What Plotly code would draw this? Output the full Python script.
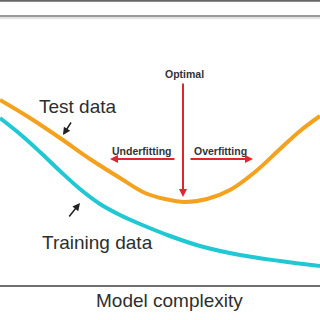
import plotly.graph_objects as go

H = 320  # canvas units (error axis = H - pixel row)

# Model complexity (x) and error (y) for each curve
test_x = [0, 30, 60, 90, 120, 145, 165, 185, 207, 230, 255, 280, 300, 320]
test_err = [220, 202, 182, 161, 142, 127, 121, 118, 121, 130, 148, 171, 189, 204]

train_x = [0, 20, 40, 60, 80, 100, 120, 140, 170, 200, 240, 280, 320]
train_err = [202, 186, 168, 149, 131, 116, 105, 96, 84, 74, 65, 59, 54]

labels = ["Test data", "Training data", "Model complexity", "Optimal", "Underfitting", "Overfitting"]

fig = go.Figure()
fig.add_trace(go.Scatter(x=test_x, y=test_err, mode="lines",
                         line=dict(color="#F4A21E", width=4, shape="spline", smoothing=1.0),
                         showlegend=False, hoverinfo="skip"))
fig.add_trace(go.Scatter(x=train_x, y=train_err, mode="lines",
                         line=dict(color="#20C8D4", width=4, shape="spline", smoothing=1.0),
                         showlegend=False, hoverinfo="skip"))

def Y(p):
    return H - p

# frame lines
fig.add_shape(type="line", x0=0, x1=320, y0=Y(0.8), y1=Y(0.8), line=dict(color="#666666", width=2))
fig.add_shape(type="line", x0=0, x1=320, y0=Y(16), y1=Y(16), line=dict(color="#9a9a9a", width=2))
fig.add_shape(type="line", x0=0, x1=320, y0=Y(18), y1=Y(18), line=dict(color="#d8d8d8", width=1.5))
fig.add_shape(type="line", x0=0, x1=320, y0=Y(286), y1=Y(286), line=dict(color="#707070", width=2))

ann = []
font_big = dict(family="Liberation Sans, Arial", size=19, color="#2e2e2e")
font_small = dict(family="Liberation Sans, Arial", size=10.5, color="#333333")
ann.append(dict(x=77.5, y=Y(106), text=labels[0], font=font_big, showarrow=False))
ann.append(dict(x=97.5, y=Y(242), text=labels[1], font=font_big, showarrow=False))
ann.append(dict(x=169, y=Y(300), text=labels[2], font=font_big, showarrow=False))
ann.append(dict(x=184.5, y=Y(74), text="<b>" + labels[3] + "</b>", font=font_small, showarrow=False))
ann.append(dict(x=142, y=Y(151), text="<b>" + labels[4] + "</b>", font=font_small, showarrow=False))
ann.append(dict(x=220, y=Y(151), text="<b>" + labels[5] + "</b>", font=font_small, showarrow=False))

red = "#E02430"
arrows = [
    ((183, 197), (183, 82), red, 2, 0.8),
    ((110, 159), (176, 159), red, 2, 0.8),
    ((253, 159), (189, 159), red, 2, 0.8),
    ((63, 135), (72, 121), "#222222", 1.5, 1.0),
    ((80, 203), (68, 218), "#222222", 1.5, 1.0),
]
for (hx, hy), (tx, ty), col, w, s in arrows:
    ann.append(dict(x=hx, y=Y(hy), ax=tx, ay=Y(ty), xref="x", yref="y", axref="x", ayref="y",
                    text="", showarrow=True, arrowhead=2, arrowsize=s, arrowwidth=w, arrowcolor=col))

fig.update_layout(
    width=320, height=320, margin=dict(l=0, r=0, t=0, b=0),
    paper_bgcolor="white", plot_bgcolor="white",
    xaxis=dict(range=[0, 320], visible=False, fixedrange=True),
    yaxis=dict(range=[0, 320], visible=False, fixedrange=True),
    annotations=ann, showlegend=False,
)
fig.write_html("out.html")
